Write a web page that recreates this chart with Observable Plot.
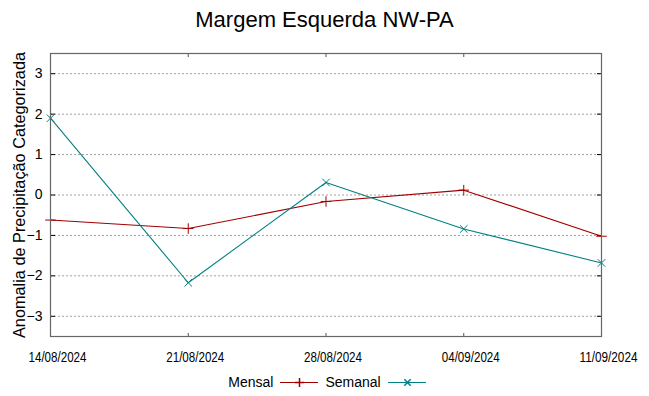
<!DOCTYPE html>
<html><head><meta charset="utf-8">
<script src="https://cdn.jsdelivr.net/npm/d3@7"></script>
<script src="https://cdn.jsdelivr.net/npm/@observablehq/plot@0.6"></script>
<style>
body{margin:0;background:#fff;font-family:"Liberation Sans",Arial,sans-serif;}
#wrap{width:649px;height:396px;position:relative;overflow:hidden;}
#title{height:40px;line-height:40px;text-align:center;font-size:22px;color:#000;}
#chart svg{display:block;}
#legend{position:absolute;top:372px;left:6px;width:649px;height:20px;display:flex;justify-content:center;align-items:center;font-size:14px;color:#000;}
#legend .item{display:flex;align-items:center;}
#legend svg{display:block;margin:0 7px;}
</style></head><body>
<div id="wrap"><div id="title"></div><div id="chart"></div><div id="legend"></div></div>
<script>
const title = "Margem Esquerda NW-PA";
const yLabel = "Anomalia de Precipitação Categorizada";
const dates = ["14/08/2024", "21/08/2024", "28/08/2024", "04/09/2024", "11/09/2024"];
const series = ["Mensal", "Semanal"];
const mensal = [-0.62, -0.83, -0.16, 0.12, -1.02];
const semanal = [1.9, -2.17, 0.31, -0.84, -1.68];
const yTicks = [-3, -2, -1, 0, 1, 2, 3];
const colors = ["#a00000", "#008080"];
const symbols = ["plus", "times"];

document.getElementById("title").textContent = title;
const parse = d3.utcParse("%d/%m/%Y");
const fmt = d3.utcFormat("%d/%m/%Y");
const xDates = dates.map(parse);
const values = [mensal, semanal];
const rows = series.flatMap((s, i) => dates.map((d, j) => ({series: s, date: parse(d), value: values[i][j]})));

const chart = Plot.plot({
  width: 649, height: 330,
  marginTop: 13, marginBottom: 34, marginLeft: 50, marginRight: 48,
  style: {fontFamily: "'Liberation Sans', Arial, sans-serif", fontSize: "14px", color: "#000", background: "#fff"},
  x: {type: "utc", domain: [xDates[0], xDates[xDates.length - 1]]},
  y: {domain: [-3.5, 3.5]},
  color: {domain: series, range: colors},
  symbol: {domain: series, range: symbols},
  marks: [
    Plot.gridY(yTicks, {stroke: "#a0a0a0", strokeOpacity: 1, strokeDasharray: "2,2"}),
    Plot.axisY(yTicks, {anchor: "left", tickSize: 0, tickPadding: 8, fontSize: 14, label: null}),
    Plot.text([yLabel], {frameAnchor: "left", rotate: -90, dx: -31, fontSize: 16.3, textAnchor: "middle", fill: "#000"}),
    Plot.axisY(yTicks, {anchor: "right", frameAnchor: "left", tickSize: 4, stroke: "#000", fill: "none", label: null}),
    Plot.axisY(yTicks, {anchor: "left", frameAnchor: "right", tickSize: 4, stroke: "#000", fill: "none", label: null}),
    Plot.axisX(xDates, {anchor: "bottom", tickSize: 0, tickPadding: 16, dx: 7, fontSize: 14, tickFormat: fmt, label: null}),
    Plot.axisX(xDates, {anchor: "top", frameAnchor: "bottom", tickSize: 4, stroke: "#555", fill: "none", label: null}),
    Plot.axisX(xDates, {anchor: "bottom", frameAnchor: "top", tickSize: 4, stroke: "#555", fill: "none", label: null}),
    Plot.line(rows, {x: "date", y: "value", z: "series", stroke: "series", strokeWidth: 1.1}),
    Plot.dot(rows, {x: "date", y: "value", symbol: "series", stroke: "series", r: 3.5, strokeWidth: 1}),
    Plot.frame({stroke: "#666", strokeWidth: 1.2})
  ]
});
document.getElementById("chart").appendChild(chart);
// condense x tick labels like the reference's narrow font
chart.querySelectorAll("text").forEach(t => {
  if (dates.includes(t.textContent.trim())) {
    t.setAttribute("textLength", "58");
    t.setAttribute("lengthAdjust", "spacingAndGlyphs");
  }
});

const legend = document.getElementById("legend");
series.forEach((s, i) => {
  const item = document.createElement("div");
  item.className = "item";
  const label = document.createElement("span");
  label.textContent = s;
  item.appendChild(label);
  const sw = Plot.plot({
    width: 38, height: 14, margin: 0,
    x: {domain: [0, 1], axis: null},
    y: {domain: [0, 1], axis: null},
    style: {background: "transparent"},
    marks: [
      Plot.ruleY([0.5], {stroke: colors[i], strokeWidth: 1.1}),
      Plot.dot([0.5], {x: d => d, y: 0.5, symbol: symbols[i], stroke: colors[i], r: 3})
    ]
  });
  item.appendChild(sw);
  legend.appendChild(item);
});
</script>
</body></html>
